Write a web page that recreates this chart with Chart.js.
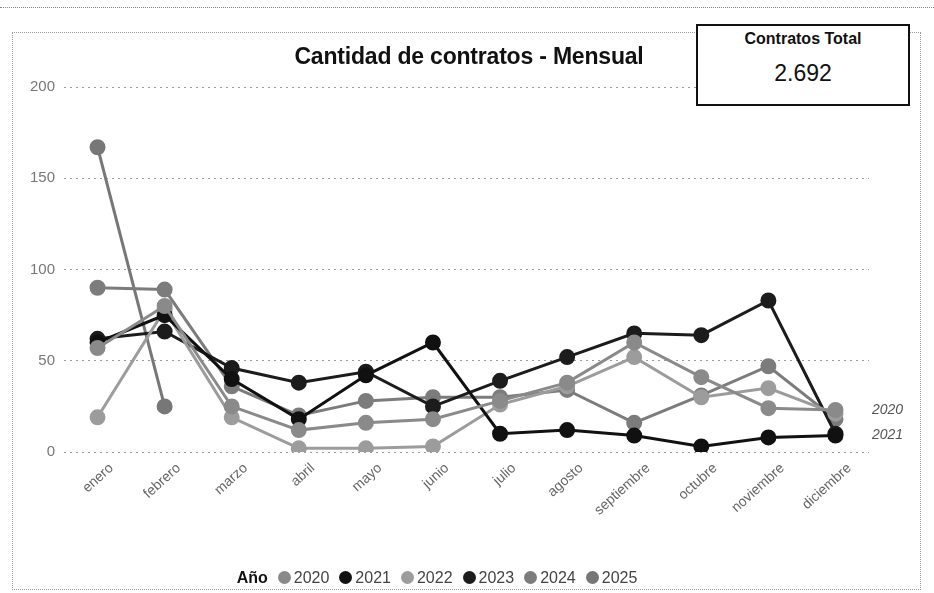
<!DOCTYPE html>
<html><head><meta charset="utf-8">
<script src="https://cdn.jsdelivr.net/npm/chart.js@4.4.1/dist/chart.umd.min.js"></script>
<style>
html,body{margin:0;padding:0;background:#fff;}
#wrap{position:relative;width:934px;height:593px;overflow:hidden;font-family:"Liberation Sans",Arial,sans-serif;}
#c{position:absolute;left:0;top:0;}
#topline{position:absolute;left:0;top:7px;width:934px;border-top:1px dotted #888;}
#frame{position:absolute;left:12px;top:32px;width:907px;height:556px;border:1px dotted #999;}
#title{position:absolute;left:0;top:43px;width:938px;text-align:center;font-weight:bold;font-size:23px;color:#111;letter-spacing:-0.2px;}
#box{position:absolute;left:696px;top:24px;width:210px;height:78px;border:2px solid #111;background:#fff;text-align:center;}
#box .h{font-weight:bold;font-size:16px;margin-top:4px;color:#111;}
#box .v{font-size:23px;margin-top:12px;color:#111;}
#legend{position:absolute;left:0;width:884px;top:569px;text-align:center;font-size:16px;color:#444;white-space:nowrap;}
#legend b{color:#111;margin-right:10px;}
#legend span.it{margin-right:10px;}
#legend i{display:inline-block;width:13px;height:13px;border-radius:50%;vertical-align:-1px;margin-right:3px;}
</style></head>
<body><div id="wrap">
<div id="topline"></div>
<div id="frame"></div>
<canvas id="c" width="934" height="593"></canvas>
<div id="title">Cantidad de contratos - Mensual</div>
<div id="box"><div class="h">Contratos Total</div><div class="v">2.692</div></div>
<div id="legend"></div>
</div>
<script>
const months = ["enero","febrero","marzo","abril","mayo","junio","julio","agosto","septiembre","octubre","noviembre","diciembre"];
const years = ["2020","2021","2022","2023","2024","2025"];
const v2020 = [57, 80, 25, 12, 16, 18, 28, 38, 60, 41, 24, 23];
const v2021 = [60, 75, 40, 18, 42, 60, 10, 12, 9, 3, 8, 9];
const v2022 = [19, 78, 19, 2, 2, 3, 26, 36, 52, 30, 35, 21];
const v2023 = [62, 66, 46, 38, 44, 25, 39, 52, 65, 64, 83, 10];
const v2024 = [90, 89, 36, 20, 28, 30, 30, 34, 16, 31, 47, 18];
const v2025 = [167, 25];
const yTicks = [0, 50, 100, 150, 200];
const endLabels = ["2020", "2021"];

const colors = ["#8a8a8a", "#111111", "#9c9c9c", "#1c1c1c", "#7c7c7c", "#777777"];
const series = [v2020, v2021, v2022, v2023, v2024, v2025];

const lg = document.getElementById('legend');
let html = '<b>Año</b>';
years.forEach((y,i)=>{ html += '<span class="it"><i style="background:'+colors[i]+'"></i>'+y+'</span>'; });
lg.innerHTML = html;

const endLabelPlugin = {
  id:'endLabels',
  afterDatasetsDraw(chart){
    const ctx = chart.ctx;
    ctx.save();
    ctx.font = 'italic 14px "Liberation Sans", Arial, sans-serif';
    ctx.fillStyle = '#555';
    ctx.textBaseline = 'middle';
    endLabels.forEach(lbl=>{
      const i = years.indexOf(lbl);
      const data = series[i];
      const y = chart.scales.y.getPixelForValue(data[data.length-1]);
      ctx.fillText(lbl, 872, y);
    });
    ctx.restore();
  }
};

new Chart(document.getElementById('c'), {
  type:'line',
  data:{
    labels: months,
    datasets: years.map((y,i)=>({
      label:y,
      data: series[i],
      borderColor: colors[i],
      backgroundColor: colors[i],
      borderWidth: 3,
      pointRadius: 6.5,
      pointHoverRadius: 6.5,
      pointBackgroundColor: colors[i],
      pointBorderColor: colors[i],
      tension: 0
    }))
  },
  options:{
    responsive:false,
    animation:false,
    layout:{padding:{left:12,right:65,top:87,bottom:0}},
    plugins:{legend:{display:false},tooltip:{enabled:false},title:{display:false}},
    scales:{
      x:{
        offset:true,
        grid:{display:false, drawTicks:false},
        border:{display:false},
        ticks:{color:'#666', font:{size:14, family:'"Liberation Sans", Arial, sans-serif'}, maxRotation:42, minRotation:42, padding:8, labelOffset:14, autoSkip:false},
        afterFit(s){ s.height = 141; }
      },
      y:{
        min:0, max:200,
        afterBuildTicks(s){ s.ticks = yTicks.map(v=>({value:v})); },
        grid:{color:'#9a9a9a', lineWidth:1, drawTicks:false},
        border:{display:false, dash:[2,4]},
        ticks:{color:'#777', font:{size:15, family:'"Liberation Sans", Arial, sans-serif'}, padding:9},
        afterFit(s){ s.width = 52; }
      }
    }
  },
  plugins:[endLabelPlugin]
});
</script>
</body></html>
